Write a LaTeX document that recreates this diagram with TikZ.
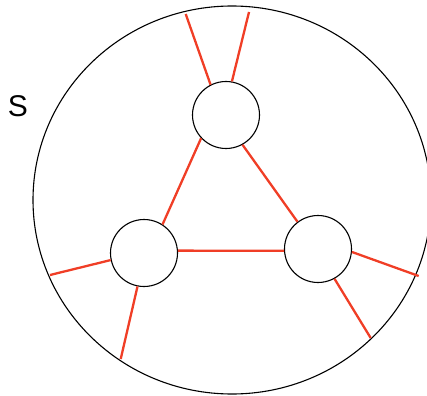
\documentclass[tikz,border=0pt]{standalone}
\usepackage{fontspec}
\setmainfont{Liberation Sans}
\definecolor{linkred}{RGB}{240,62,38}
\begin{document}
\begin{tikzpicture}[x=1pt,y=-1pt,
  hub/.style={circle,draw=black,line width=1.1pt,minimum size=67pt,inner sep=0pt,fill=white},
  rim/.style={draw=black,line width=1.1pt},
  link/.style={draw=linkred,line width=2.3pt}]
\useasboundingbox (0,0) rectangle (427,395);
\draw[rim] (232,200) ellipse [x radius=199pt, y radius=194pt];
\node[font=\fontsize{30}{32}\selectfont] (S) at (18,106) {S};
\node[hub] (top) at (226,115) {};
\node[hub] (left) at (144,253) {};
\node[hub] (right) at (318,249) {};
\coordinate (e1) at (185.7,14);
\coordinate (e2) at (249,12);
\coordinate (e3) at (50,275);
\coordinate (e4) at (120.7,359);
\coordinate (e5) at (418.7,276);
\coordinate (e6) at (370.7,338);
\draw[link] (top.117) -- (e1);
\draw[link] (top.80) -- (e2);
\draw[link] (left.192) -- (e3);
\draw[link] (left.259) -- (e4);
\draw[link] (right.-5) -- (e5);
\draw[link] (right.-61) -- (e6);
\draw[link] (top.223) -- (left.57);
\draw[link] (top.-61) -- (right.127);
\draw[link] (left.4) -- (right.183);
\end{tikzpicture}
\end{document}
